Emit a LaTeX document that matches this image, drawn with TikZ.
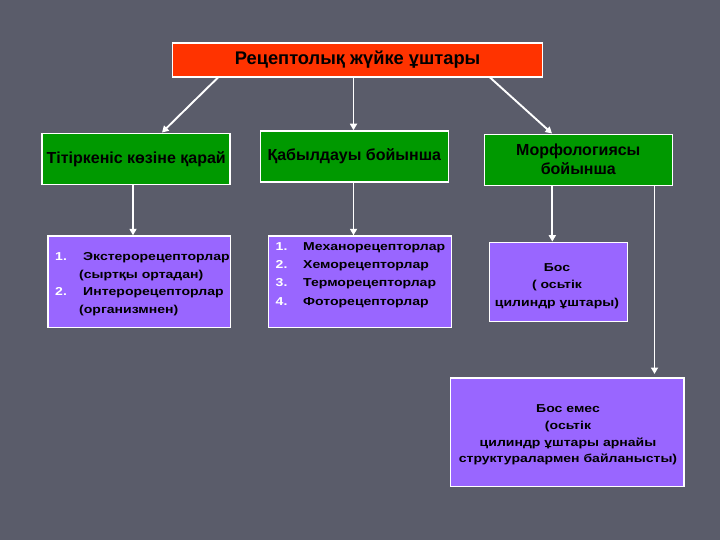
\documentclass[tikz,border=0pt]{standalone}
\usepackage{fontspec}
\setmainfont{Liberation Sans}
\newfontfamily\widefont[FakeStretch=1.22]{Liberation Sans}
\usetikzlibrary{arrows.meta}
\definecolor{bgc}{HTML}{5A5C6A}
\definecolor{redc}{HTML}{FF3300}
\definecolor{greenc}{HTML}{009900}
\definecolor{purc}{HTML}{9966FF}
\begin{document}
\begin{tikzpicture}[x=1pt,y=-1pt,
  box/.style={draw=white, line width=1.5pt, inner sep=0pt},
  arr/.style={draw=white, line width=1.9pt, -{Triangle[length=6.5pt,width=7pt]}},
  gtext/.style={font=\fontsize{16}{19}\selectfont\bfseries, align=center},
  ptext/.style={font=\widefont\fontsize{11.5}{17.5}\selectfont\bfseries, inner sep=0pt}
]
\fill[bgc] (0,0) rectangle (720,540);
\useasboundingbox (0,0) rectangle (720,540);

% top
\node[box, fill=redc, minimum width=370pt, minimum height=34pt] (top) at (357.6,60)
  {\fontsize{18.3}{20}\selectfont\bfseries Рецептолық жүйке ұштары};

% green
\node[box, fill=greenc, minimum width=188pt, minimum height=51pt] (g1) at (136.2,158.8) {};
\node[gtext] (g1t) at (g1.center) {Тітіркеніс көзіне қарай};
\node[box, fill=greenc, minimum width=188pt, minimum height=51pt] (g2) at (354.3,156.5) {};
\node[gtext] (g2t) at (g2.center) {Қабылдауы бойынша};
\node[box, fill=greenc, minimum width=188pt, minimum height=51pt] (g3) at (578.3,159.8) {};
\node[gtext] (g3t) at ([yshift=0.5pt]g3.center) {Морфологиясы\\бойынша};

% purple
\node[box, fill=purc, minimum width=182.5pt, minimum height=91.5pt] (p1) at (139.2,281.8) {};
\node[ptext, anchor=north west] (p1t) at (55,248.5) {%
  \begin{tabular}{@{}p{28pt}@{}l@{}}
  \textcolor{white}{1.} & Экстерорецепторлар\\
  & \hspace*{-4pt}(сыртқы ортадан)\\
  \textcolor{white}{2.} & Интерорецепторлар\\
  & \hspace*{-4pt}(организмнен)
  \end{tabular}};

\node[box, fill=purc, minimum width=182.7pt, minimum height=91.5pt] (p2) at (360,281.8) {};
\node[ptext, anchor=north west, font=\widefont\fontsize{11.5}{18.2}\selectfont\bfseries] (p2t) at (275.5,237.5) {%
  \begin{tabular}{@{}p{27.5pt}@{}l@{}}
  \textcolor{white}{1.} & Механорецепторлар\\
  \textcolor{white}{2.} & Хеморецепторлар\\
  \textcolor{white}{3.} & Терморецепторлар\\
  \textcolor{white}{4.} & Фоторецепторлар
  \end{tabular}};

\node[box, fill=purc, minimum width=138.2pt, minimum height=79pt] (p3) at (558.5,281.9) {};
\node[ptext, align=center] (p3t) at (557,286) {Бос\\( осьтік\\цилиндр ұштары)};

\node[box, fill=purc, minimum width=233.6pt, minimum height=108.6pt] (p4) at (567.2,432.3) {};
\node[ptext, align=center, font=\widefont\fontsize{11.5}{16.8}\selectfont\bfseries] (p4t) at (568,435)
  {Бос емес\\(осьтік\\цилиндр ұштары арнайы\\структуралармен байланысты)};

% connectors
\coordinate (a1) at (218,77.5);
\coordinate (b1) at (162,132.5);
\coordinate (a3) at (490,77.5);
\coordinate (b3) at (552,133.5);
\coordinate (c1) at (133,0);
\coordinate (c2) at (353.5,0);
\coordinate (c3) at (552.3,0);
\coordinate (e5) at (654.5,374);

\draw[arr] (a1) -- (b1);
\draw[arr] (top.south -| c2) -- (g2.north -| c2);
\draw[arr] (a3) -- (b3);
\draw[arr] (g1.south -| c1) -- (p1.north -| c1);
\draw[arr] (g2.south -| c2) -- (p2.north -| c2);
\draw[arr] (g3.south -| c3) -- (p3.north -| c3);
\draw[arr] (g3.south -| e5) -- (e5);
\end{tikzpicture}
\end{document}
